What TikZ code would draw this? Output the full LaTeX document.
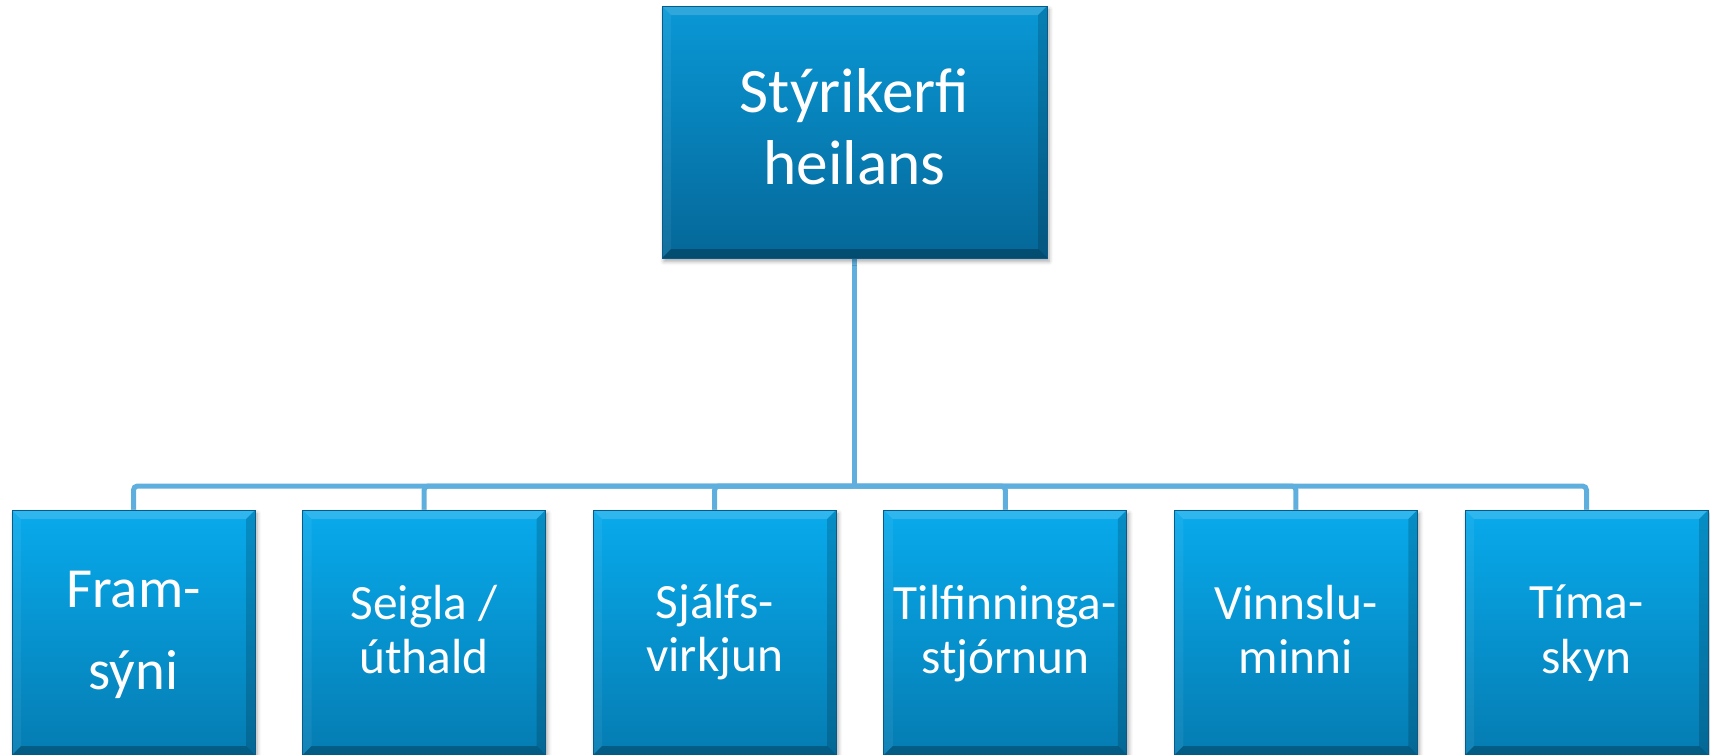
\documentclass[tikz,border=0pt]{standalone}
\usepackage{fontspec}
\setmainfont{Carlito}
\usetikzlibrary{shadows.blur,backgrounds}
\definecolor{conncol}{RGB}{95,175,222}
\definecolor{edgecol}{RGB}{10,90,135}
\definecolor{toptopc}{RGB}{9,152,214}
\definecolor{topbotc}{RGB}{5,103,152}
\definecolor{subtopc}{RGB}{8,170,236}
\definecolor{subbotc}{RGB}{5,124,178}
\tikzset{
  bevel/.style={path picture={
    \path (path picture bounding box.north west) coordinate (bvnw)
          (path picture bounding box.north east) coordinate (bvne)
          (path picture bounding box.south east) coordinate (bvse)
          (path picture bounding box.south west) coordinate (bvsw);
    \fill[white,opacity=0.16] (bvnw) -- (bvne) -- ([shift={(-9,9)}]bvne) -- ([shift={(9,9)}]bvnw) -- cycle;
    \fill[white,opacity=0.06] (bvnw) -- ([shift={(9,9)}]bvnw) -- ([shift={(9,-9)}]bvsw) -- (bvsw) -- cycle;
    \fill[black,opacity=0.16] (bvne) -- (bvse) -- ([shift={(-9,-9)}]bvse) -- ([shift={(-9,9)}]bvne) -- cycle;
    \fill[black,opacity=0.26] (bvsw) -- ([shift={(9,-9)}]bvsw) -- ([shift={(-9,-9)}]bvse) -- (bvse) -- cycle;
  }},
  boxbase/.style={rectangle, draw=edgecol, line width=0.6pt, inner sep=0pt, bevel,
    blur shadow={shadow xshift=1.5pt, shadow yshift=-2.5pt, shadow blur radius=3pt, shadow opacity=35}},
  headbox/.style={boxbase, top color=toptopc, bottom color=topbotc,
    minimum width=288.75pt, minimum height=189pt},
  subbox/.style={boxbase, top color=subtopc, bottom color=subbotc,
    minimum width=182.25pt, minimum height=183.75pt},
  txt/.style={text=white, inner sep=0pt, anchor=base},
  conn/.style={draw=conncol, line width=3.75pt, rounded corners=3pt},
  headfont/.style={font=\fontsize{47.5}{57}\selectfont},
  firstfont/.style={font=\fontsize{42.5}{51}\selectfont},
  subfont/.style={font=\fontsize{37}{44}\selectfont},
}
\begin{document}
\begin{tikzpicture}[x=0.75pt, y=-0.75pt]
\useasboundingbox (0,0) rectangle (1710,754);
% boxes
\node[headbox] (top) at (854.5,132) {};
\node[subbox] (b1) at (133.5,632.5) {};
\node[subbox] (b2) at (424.1,632.5) {};
\node[subbox] (b3) at (714.7,632.5) {};
\node[subbox] (b4) at (1005.3,632.5) {};
\node[subbox] (b5) at (1295.9,632.5) {};
\node[subbox] (b6) at (1586.5,632.5) {};
\coordinate (hub) at (854.5,486);
% connectors
\begin{scope}[on background layer]
\draw[conn] (top.south) -- (hub);
\foreach \b in {b1,b2,b3,b4,b5,b6} {
  \draw[conn] (hub) -| (\b.north);
}
\end{scope}
% texts
\node[txt, headfont] (t0a) at (854.5,112) {Stýrikerfi};
\node[txt, headfont] (t0b) at (854.5,184) {heilans};
\node[txt, firstfont] (t1a) at (133.5,607) {Fram-};
\node[txt, firstfont] (t1b) at (133.5,689) {sýni};
\node[txt, subfont] (t2a) at (424.1,619) {Seigla /};
\node[txt, subfont] (t2b) at (424.1,673) {úthald};
\node[txt, subfont] (t3a) at (714.7,618) {Sjálfs-};
\node[txt, subfont] (t3b) at (714.7,671) {virkjun};
\node[txt, subfont] (t4a) at (1005.3,619) {Tilfinninga-};
\node[txt, subfont] (t4b) at (1005.3,673) {stjórnun};
\node[txt, subfont] (t5a) at (1295.9,619) {Vinnslu-};
\node[txt, subfont] (t5b) at (1295.9,673) {minni};
\node[txt, subfont] (t6a) at (1586.5,618) {Tíma-};
\node[txt, subfont] (t6b) at (1586.5,673) {skyn};
\end{tikzpicture}
\end{document}
